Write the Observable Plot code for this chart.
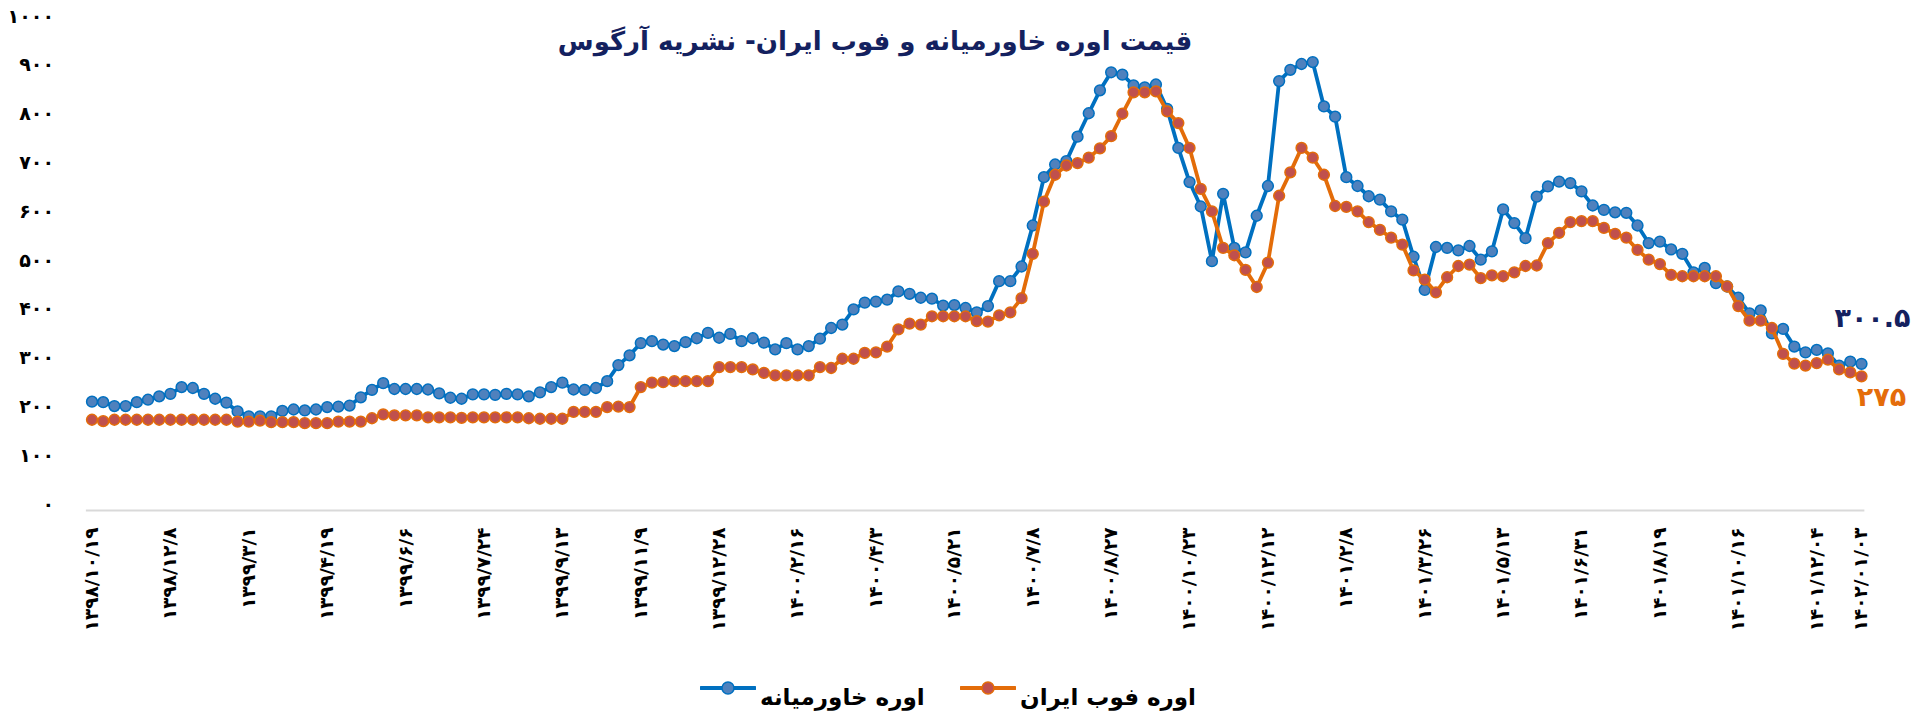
<!DOCTYPE html>
<html>
<head>
<meta charset="utf-8">
<script src="https://cdn.jsdelivr.net/npm/d3@7"></script>
<script src="https://cdn.jsdelivr.net/npm/@observablehq/plot@0.6"></script>
<style>
  body { margin: 0; background: #fff; }
  #wrap { position: relative; width: 1920px; height: 717px; overflow: hidden; font-family: "DejaVu Sans", sans-serif; }
  #chart { position: absolute; left: 0; top: 0; }
  #title { position: absolute; left: 375px; width: 1000px; top: 26px; text-align: center; font-size: 26px; font-weight: bold; color: #14215F; white-space: nowrap; }
  .leg-text { position: absolute; top: 684px; font-size: 23px; font-weight: bold; color: #000; white-space: nowrap; }
  .leg-sw { position: absolute; top: 680px; }
</style>
</head>
<body>
<div id="wrap">
  <div id="chart"></div>
  <div id="title" dir="rtl"></div>
  <svg class="leg-sw" style="left:700px" width="56" height="16"><line x1="1" x2="55" y1="8" y2="8" stroke="#0070C0" stroke-width="4" stroke-linecap="round"/><circle cx="28" cy="8" r="6" fill="#4F81BD" stroke="#0070C0" stroke-width="1.5"/></svg>
  <div class="leg-text" id="leg1" dir="rtl" style="left:760px"></div>
  <svg class="leg-sw" style="left:960px" width="56" height="16"><line x1="1" x2="55" y1="8" y2="8" stroke="#E36C09" stroke-width="4" stroke-linecap="round"/><circle cx="28" cy="8" r="6" fill="#C0504D" stroke="#E36C09" stroke-width="1.5"/></svg>
  <div class="leg-text" id="leg2" dir="rtl" style="left:1020px"></div>
</div>
<script>
const titleText = "قیمت اوره خاورمیانه و فوب ایران- نشریه آرگوس";
const seriesNames = ["اوره خاورمیانه", "اوره فوب ایران"];

// Tick labels (category positions of labelled weeks)
const xTickAt = [0, 7, 14, 21, 28, 35, 42, 49, 56, 63, 70, 77, 84, 91, 98, 105, 112, 119, 126, 133, 140, 147, 154, 158];
const xTickLabels = [
  "۱۳۹۸/۱۰/۱۹", "۱۳۹۸/۱۲/۸", "۱۳۹۹/۳/۱", "۱۳۹۹/۴/۱۹", "۱۳۹۹/۶/۶", "۱۳۹۹/۷/۲۴",
  "۱۳۹۹/۹/۱۳", "۱۳۹۹/۱۱/۹", "۱۳۹۹/۱۲/۲۸", "۱۴۰۰/۲/۱۶", "۱۴۰۰/۴/۳", "۱۴۰۰/۵/۲۱",
  "۱۴۰۰/۷/۸", "۱۴۰۰/۸/۲۷", "۱۴۰۰/۱۰/۲۳", "۱۴۰۰/۱۲/۱۲", "۱۴۰۱/۲/۸", "۱۴۰۱/۳/۲۶",
  "۱۴۰۱/۵/۱۳", "۱۴۰۱/۶/۳۱", "۱۴۰۱/۸/۱۹", "۱۴۰۱/۱۰/۱۶", "۱۴۰۱/۱۲/۰۴", "۱۴۰۲/۰۱/۰۳"
];
const yTicks = [0, 100, 200, 300, 400, 500, 600, 700, 800, 900, 1000];
const yTickLabels = ["۰", "۱۰۰", "۲۰۰", "۳۰۰", "۴۰۰", "۵۰۰", "۶۰۰", "۷۰۰", "۸۰۰", "۹۰۰", "۱۰۰۰"];

// اوره خاورمیانه (Middle East urea)
const middleEast = [
  223, 222, 214, 214, 222, 227, 234, 239, 253, 251, 239, 229, 221, 203, 193, 193, 193, 204, 207, 205,
  207, 212, 213, 215, 232, 247, 261, 249, 249, 249, 248, 240, 231, 229, 238, 238, 237, 239, 238, 234,
  242, 253, 262, 248, 247, 251, 265, 298, 318, 343, 347, 340, 337, 345, 353, 364, 354, 362, 347, 353,
  344, 330, 343, 330, 337, 352, 374, 381, 412, 426, 428, 432, 449, 444, 436, 434, 420, 421, 415,
  406, 419, 470, 470, 500, 584, 683, 709, 716, 766, 814, 861, 898, 893, 871, 867, 873, 823, 743, 673,
  623, 511, 649, 538, 529, 604, 665, 880, 903, 915, 919, 828, 807, 683, 665, 644, 637, 613, 596,
  520, 452, 540, 538, 533, 542, 514, 531, 617, 589, 558, 643, 664, 674, 671, 654, 625, 616, 611, 610,
  584, 548, 551, 535, 526, 488, 497, 466, 459, 436, 404, 410, 363, 372, 336, 324, 329, 322, 297, 305, 300.5
];
// اوره فوب ایران (Iran FOB urea)
const iranFob = [
  186, 183, 186, 186, 186, 186, 186, 186, 186, 186, 186, 186, 186, 182, 182, 184, 181, 181, 181, 179,
  179, 179, 182, 182, 182, 189, 197, 195, 195, 195, 191, 191, 191, 190, 191, 191, 191, 191, 191, 189,
  188, 188, 188, 202, 202, 202, 212, 213, 212, 253, 262, 263, 265, 265, 265, 265, 294, 294, 294, 289,
  282, 277, 277, 277, 277, 294, 292, 311, 311, 323, 324, 336, 371, 383, 381, 398, 398, 398, 398,
  388, 387, 400, 406, 435, 526, 633, 688, 707, 712, 723, 742, 767, 813, 857, 857, 859, 818, 794, 743,
  659, 613, 538, 523, 493, 458, 508, 645, 693, 743, 723, 688, 624, 622, 613, 591, 575, 559, 545,
  492, 473, 447, 478, 501, 504, 476, 482, 480, 488, 501, 502, 548, 569, 591, 593, 593, 579, 567, 559,
  534, 514, 505, 483, 480, 480, 480, 480, 459, 419, 389, 389, 374, 321, 301, 297, 302, 309, 289, 283, 275
];
const lastLabels = ["۳۰۰.۵", "۲۷۵"];

document.getElementById("title").textContent = titleText;
document.getElementById("leg1").textContent = seriesNames[0];
document.getElementById("leg2").textContent = seriesNames[1];

const me = middleEast.map((v, i) => ({i, v}));
const ir = iranFob.map((v, i) => ({i, v}));
const n = middleEast.length - 1;

const chart = Plot.plot({
  width: 1920,
  height: 660,
  marginTop: 22,
  marginBottom: 150,
  marginLeft: 91.5,
  marginRight: 59,
  x: {domain: [0, n], axis: null},
  y: {domain: [0, 1000], axis: null},
  style: {fontFamily: "DejaVu Sans, sans-serif", background: "transparent", color: "#000"},
  marks: [
    Plot.axisY({ticks: yTicks, tickFormat: d => yTickLabels[yTicks.indexOf(d)], tickSize: 0, tickPadding: 38,
      label: null, fontSize: 19, fontWeight: "bold", dy: -6, fill: "#000"}),
    Plot.axisX({ticks: xTickAt, tickFormat: d => xTickLabels[xTickAt.indexOf(d)], tickRotate: -90, tickSize: 0,
      tickPadding: 17, label: null, fontSize: 18.5, fontWeight: "bold", fill: "#000"}),
    Plot.ruleY([0], {x1: -0.5, x2: n + 0.3, stroke: "#D9D9D9", strokeWidth: 2}),
    Plot.line(me, {x: "i", y: "v", stroke: "#0070C0", strokeWidth: 3.8}),
    Plot.dot(me, {x: "i", y: "v", r: 5.4, fill: "#4F81BD", stroke: "#0070C0", strokeWidth: 1.5}),
    Plot.line(ir, {x: "i", y: "v", stroke: "#E36C09", strokeWidth: 3.8}),
    Plot.dot(ir, {x: "i", y: "v", r: 5.4, fill: "#C0504D", stroke: "#E36C09", strokeWidth: 1.5}),
    Plot.text([me[n]], {x: "i", y: "v", text: () => lastLabels[0], dx: 11, dy: -45, fontSize: 27, fontWeight: "bold", fill: "#14215F"}),
    Plot.text([ir[n]], {x: "i", y: "v", text: () => lastLabels[1], dx: 20, dy: 21, fontSize: 27, fontWeight: "bold", fill: "#E46C0A"})
  ]
});
document.getElementById("chart").appendChild(chart);
</script>
</body>
</html>
